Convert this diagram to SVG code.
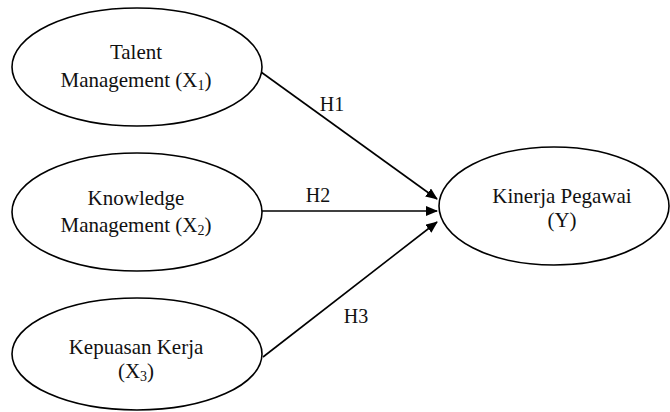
<svg xmlns="http://www.w3.org/2000/svg" width="670" height="412" viewBox="0 0 670 412">
<style>
.n{fill:#fff;stroke:#000;stroke-width:1.6}
.t{font-family:"Liberation Serif","Times New Roman",serif;font-size:21px;fill:#111;text-anchor:middle}
.h{font-size:20px}
.s{font-size:14px}
.c{stroke:#000;stroke-width:1.6;fill:none}
</style>
<defs>
<marker id="ah" markerWidth="12" markerHeight="10" refX="11" refY="5" orient="auto" markerUnits="userSpaceOnUse">
<path d="M0,0 L12,5 L0,10 z" fill="#000"/>
</marker>
</defs>
<rect width="670" height="412" fill="#fff"/>
<g id="connectors">
<line class="c" x1="261" y1="72" x2="437" y2="199" marker-end="url(#ah)"/>
<line class="c" x1="262" y1="211" x2="437" y2="211" marker-end="url(#ah)"/>
<line class="c" x1="263" y1="357" x2="437" y2="222" marker-end="url(#ah)"/>
<text class="t h" x="332" y="111">H1</text>
<text class="t h" x="318" y="202">H2</text>
<text class="t h" x="356" y="323">H3</text>
</g>
<g id="x1">
<ellipse class="n" cx="137" cy="67" rx="125" ry="59"/>
<text class="t" x="136" y="59">Talent</text>
<text class="t" x="136" y="87">Management (X<tspan class="s" dy="3">1</tspan><tspan dy="-3">)</tspan></text>
</g>
<g id="x2">
<ellipse class="n" cx="137" cy="212" rx="125" ry="59"/>
<text class="t" x="136" y="205">Knowledge</text>
<text class="t" x="136" y="232">Management (X<tspan class="s" dy="3">2</tspan><tspan dy="-3">)</tspan></text>
</g>
<g id="x3">
<ellipse class="n" cx="137" cy="354" rx="125" ry="56"/>
<text class="t" x="136" y="354">Kepuasan Kerja</text>
<text class="t" x="136" y="378">(X<tspan class="s" dy="3">3</tspan><tspan dy="-3">)</tspan></text>
</g>
<g id="y">
<ellipse class="n" cx="554" cy="206" rx="115" ry="59"/>
<text class="t" x="562" y="203">Kinerja Pegawai</text>
<text class="t" x="562" y="227">(Y)</text>
</g>
</svg>
